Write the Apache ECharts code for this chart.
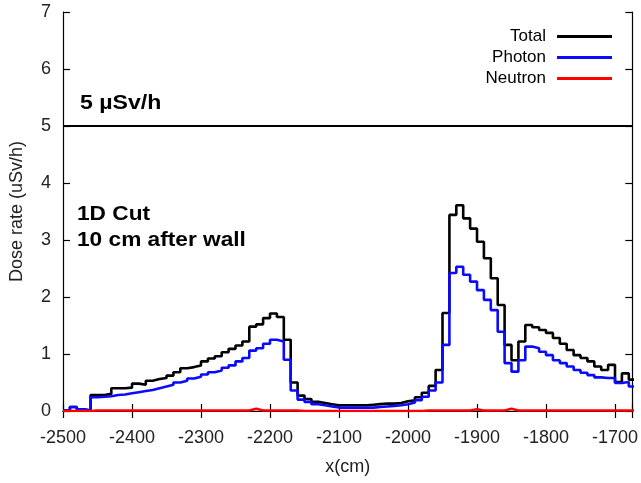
<!DOCTYPE html>
<html>
<head>
<meta charset="utf-8">
<script src="https://cdn.jsdelivr.net/npm/echarts@6/dist/echarts.min.js"></script>
<style>
  html, body { margin: 0; padding: 0; background: #fff; }
  #chart { width: 641px; height: 483px; }
</style>
</head>
<body>
<div id="chart"></div>
<script>
// Histogram binning along x (cm): 10 cm bins starting at -2500
const binStart = -2500;
const binWidth = 10;

// Dose rate per bin (uSv/h)
const totalDose = [
  0.01, 0.07, 0.03, 0.01, 0.28, 0.28, 0.30, 0.40, 0.40, 0.41,
  0.48, 0.46, 0.53, 0.56, 0.58, 0.62, 0.68, 0.75, 0.77, 0.80,
  0.87, 0.92, 0.96, 1.03, 1.09, 1.15, 1.22, 1.48, 1.52, 1.63,
  1.71, 1.65, 1.25, 0.50, 0.27, 0.21, 0.16, 0.14, 0.12, 0.10,
  0.10, 0.10, 0.10, 0.10, 0.11, 0.12, 0.13, 0.13, 0.14, 0.17,
  0.19, 0.24, 0.32, 0.44, 0.72, 1.72, 3.44, 3.61, 3.38, 3.20,
  2.97, 2.68, 2.33, 1.86, 1.16, 0.89, 1.22, 1.51, 1.47, 1.42,
  1.37, 1.28, 1.18, 1.07, 0.98, 0.93, 0.87, 0.78, 0.72, 0.81,
  0.51, 0.66, 0.55
];
const photonDose = [
  0.01, 0.07, 0.03, 0.01, 0.24, 0.25, 0.26, 0.28, 0.29, 0.31,
  0.33, 0.35, 0.37, 0.40, 0.43, 0.46, 0.50, 0.53, 0.57, 0.60,
  0.64, 0.68, 0.71, 0.76, 0.80, 0.87, 0.93, 1.06, 1.10, 1.18,
  1.25, 1.22, 0.90, 0.36, 0.20, 0.16, 0.12, 0.10, 0.08, 0.06,
  0.06, 0.06, 0.06, 0.06, 0.06, 0.07, 0.08, 0.09, 0.10, 0.12,
  0.15, 0.19, 0.25, 0.36, 0.50, 1.16, 2.42, 2.53, 2.39, 2.27,
  2.12, 1.95, 1.77, 1.39, 0.84, 0.69, 0.89, 1.13, 1.10, 1.04,
  0.98, 0.89, 0.84, 0.78, 0.72, 0.67, 0.63, 0.59, 0.58, 0.58,
  0.49, 0.51, 0.43
];
const neutronDose = [
  0.00, 0.00, 0.00, 0.00, 0.01, 0.01, 0.01, 0.01, 0.01, 0.01,
  0.01, 0.01, 0.01, 0.01, 0.01, 0.01, 0.01, 0.01, 0.01, 0.01,
  0.01, 0.01, 0.01, 0.01, 0.01, 0.01, 0.01, 0.04, 0.01, 0.01,
  0.01, 0.01, 0.01, 0.01, 0.00, 0.00, 0.00, 0.00, 0.00, 0.00,
  0.00, 0.00, 0.00, 0.00, 0.00, 0.00, 0.00, 0.00, 0.00, 0.00,
  0.00, 0.00, 0.01, 0.01, 0.01, 0.01, 0.01, 0.01, 0.01, 0.03,
  0.01, 0.01, 0.01, 0.01, 0.04, 0.01, 0.01, 0.01, 0.01, 0.01,
  0.01, 0.01, 0.01, 0.01, 0.01, 0.01, 0.01, 0.01, 0.01, 0.01,
  0.01, 0.01, 0.01
];

const seriesNames = ['Total', 'Photon', 'Neutron'];
const seriesColors = ['#000000', '#0a0aff', '#ff0000'];
const limitValue = 5;
const xRange = [-2500, -1675];
const yRange = [0, 7];

// Turn per-bin values into step points: each bin's left edge, plus the closing edge
function toSteps(values) {
  const pts = values.map((v, i) => [binStart + i * binWidth, v]);
  pts.push([binStart + values.length * binWidth, values[values.length - 1]]);
  return pts;
}

const font = 'Liberation Sans, Arial, sans-serif';
const chart = echarts.init(document.getElementById('chart'), null, { renderer: 'canvas' });

const frameAxis = {
  axisLine: { show: true, lineStyle: { color: '#000', width: 1.2 } },
  axisTick: { show: true, inside: true, length: 7, lineStyle: { color: '#000', width: 1.2 } },
  splitLine: { show: false }
};

const series = [totalDose, photonDose, neutronDose].map((vals, i) => ({
  name: seriesNames[i],
  type: 'line',
  step: 'end',
  data: toSteps(vals),
  showSymbol: false,
  symbol: 'none',
  clip: true,
  lineStyle: { color: seriesColors[i], width: 2.6 },
  itemStyle: { color: seriesColors[i] },
  emphasis: { disabled: true },
  z: 3 + i
}));

// 5 uSv/h reference line
series[0].markLine = {
  silent: true,
  symbol: ['none', 'none'],
  label: { show: false },
  lineStyle: { color: '#000', width: 2, type: 'solid' },
  data: [{ yAxis: limitValue }]
};

const noteStyle = { fontFamily: font, fontWeight: 'bold', fontSize: 21, fill: '#000' };

chart.setOption({
  animation: false,
  backgroundColor: '#fff',
  grid: { left: 62, right: 8, top: 12, bottom: 72, containLabel: false },
  legend: {
    data: seriesNames,
    orient: 'vertical',
    right: 29,
    top: 28,
    padding: 0,
    align: 'right',
    icon: 'rect',
    itemWidth: 55,
    itemHeight: 3,
    itemGap: 4,
    textStyle: { fontFamily: font, fontSize: 17, color: '#000', padding: [0, 6, 0, 0], lineHeight: 17 },
    selectedMode: false
  },
  xAxis: [
    Object.assign({
      type: 'value', position: 'bottom', min: xRange[0], max: xRange[1], interval: 100,
      name: 'x(cm)', nameLocation: 'middle', nameGap: 47,
      nameTextStyle: { fontFamily: font, fontSize: 18, color: '#222' },
      axisLabel: {
        fontFamily: font, fontSize: 18, color: '#222', margin: 18,
        formatter: v => (v % 100 === 0 ? String(v) : '')
      }
    }, frameAxis),
    Object.assign({
      type: 'value', position: 'top', min: xRange[0], max: xRange[1], interval: 100,
      axisLabel: { show: false }
    }, frameAxis)
  ],
  yAxis: [
    Object.assign({
      type: 'value', position: 'left', min: yRange[0], max: yRange[1], interval: 1,
      name: 'Dose rate (uSv/h)', nameLocation: 'middle', nameGap: 37, nameRotate: 90,
      nameTextStyle: { fontFamily: font, fontSize: 18, color: '#222' },
      axisLabel: { fontFamily: font, fontSize: 18, color: '#222', margin: 12 }
    }, frameAxis),
    Object.assign({
      type: 'value', position: 'right', min: yRange[0], max: yRange[1], interval: 1,
      axisLabel: { show: false }
    }, frameAxis)
  ],
  graphic: [
    { type: 'text', x: 80, y: 93, scaleX: 1.1, style: Object.assign({ text: '5 µSv/h' }, noteStyle) },
    { type: 'text', x: 77, y: 204, scaleX: 1.08, style: Object.assign({ text: '1D Cut' }, noteStyle) },
    { type: 'text', x: 77, y: 230, scaleX: 1.08, style: Object.assign({ text: '10 cm after wall' }, noteStyle) }
  ],
  series: series
});
</script>
</body>
</html>
